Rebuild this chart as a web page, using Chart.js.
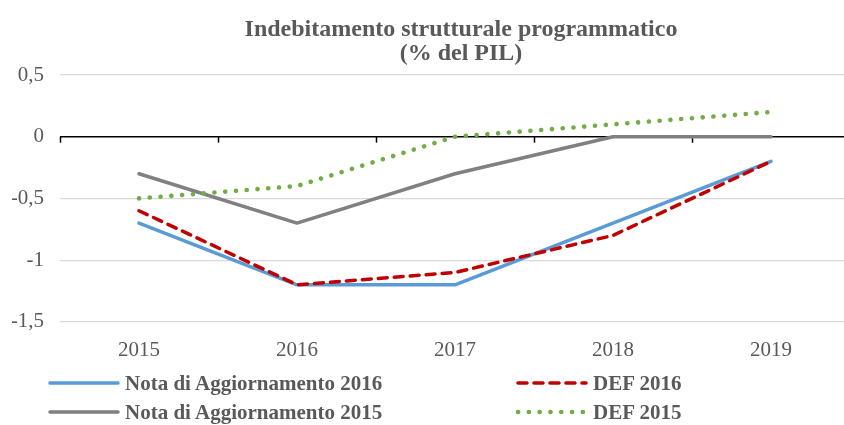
<!DOCTYPE html>
<html>
<head>
<meta charset="utf-8">
<script src="https://cdn.jsdelivr.net/npm/chart.js@4/dist/chart.umd.min.js"></script>
<style>
  html, body { margin: 0; padding: 0; background: #fff; overflow: hidden; width: 844px; height: 425px; }
  #wrap { position: relative; width: 852px; height: 425px; }
  canvas { position: absolute; left: 0; top: 0; }
  .leg { position: absolute; font-family: "Liberation Serif", "Times New Roman", serif; font-weight: bold;
         font-size: 21px; color: #595959; line-height: 24px; height: 24px; white-space: nowrap; }
  .leg svg { position: absolute; left: 0; top: 0; }
  .leg span { position: absolute; top: 0; }
</style>
</head>
<body>
<div id="wrap">
  <canvas id="c" width="852" height="425"></canvas>
  <div id="legend"></div>
</div>
<script>
// ---- data ----
const categories = ['2015', '2016', '2017', '2018', '2019'];
const notaAgg2016 = [-0.7, -1.2, -1.2, -0.7, -0.2];
const def2016     = [-0.6, -1.2, -1.1, -0.8, -0.2];
const notaAgg2015 = [-0.3, -0.7, -0.3, 0, 0];
const def2015     = [-0.5, -0.4, 0, 0.1, 0.2];
const seriesNames = ['Nota di Aggiornamento 2016', 'DEF 2016', 'Nota di Aggiornamento 2015', 'DEF 2015'];
const titleLines  = ['Indebitamento strutturale programmatico', '(% del PIL)'];
const yMin = -1.5, yMax = 0.5, yStep = 0.5;

const styles = [
  { color: '#5B9BD5', dash: [], width: 3.5, cap: 'round', order: 4 },
  { color: '#C00000', dash: [9, 7], width: 3.5, cap: 'round', order: 3 },
  { color: '#808080', dash: [], width: 3.5, cap: 'round', order: 2 },
  { color: '#70AD47', dash: [0.1, 10.7], width: 4.6, cap: 'round', order: 1 }
];
const seriesData = [notaAgg2016, def2016, notaAgg2015, def2015];

const FONT = '"Liberation Serif", "Times New Roman", serif';
const TXT = '#595959';

const zeroTicks = {
  id: 'zeroTicks',
  afterLayout(chart) {
    // nudge the title box slightly right, as in the reference
    if (chart.titleBlock) { chart.titleBlock.left += 12; chart.titleBlock.right += 0; }
  },
  beforeDatasetsDraw(chart) {
    const x = chart.scales.x, y = chart.scales.y;
    const ctx = chart.ctx;
    const n = categories.length;
    const step = (x.right - x.left) / n;
    const y0 = y.getPixelForValue(0);
    ctx.save();
    ctx.strokeStyle = '#000';
    ctx.lineWidth = 1.5;
    for (let i = 0; i <= n; i++) {
      const px = Math.round(x.left + i * step) + 0.5;
      ctx.beginPath();
      ctx.moveTo(px, y0);
      ctx.lineTo(px, y0 + 6);
      ctx.stroke();
    }
    ctx.restore();
  }
};

const chart = new Chart(document.getElementById('c'), {
  type: 'line',
  data: {
    labels: categories,
    datasets: seriesData.map((d, i) => ({
      label: seriesNames[i],
      data: d,
      borderColor: styles[i].color,
      backgroundColor: styles[i].color,
      borderWidth: styles[i].width,
      borderDash: styles[i].dash,
      borderCapStyle: styles[i].cap,
      borderJoinStyle: 'round',
      pointRadius: 0,
      tension: 0,
      fill: false,
      order: styles[i].order
    }))
  },
  options: {
    responsive: false,
    animation: false,
    devicePixelRatio: 1,
    layout: { padding: { left: 12, right: 2, top: 0, bottom: 46 } },
    plugins: {
      legend: { display: false },
      tooltip: { enabled: false },
      title: {
        display: true,
        text: titleLines,
        fullSize: false,
        color: TXT,
        font: { family: FONT, size: 24, weight: 'bold', lineHeight: 1.0 },
        padding: { top: 18, bottom: 9 }
      }
    },
    scales: {
      x: {
        type: 'category',
        offset: true,
        grid: { display: false, drawTicks: false },
        border: { display: false },
        ticks: { color: TXT, font: { family: FONT, size: 21 }, padding: 16, maxRotation: 0 }
      },
      y: {
        min: yMin, max: yMax,
        border: { display: false },
        afterFit: s => { s.width = 48; },
        grid: {
          drawTicks: false,
          color: ctx => (ctx.tick && ctx.tick.value === 0) ? '#000000' : '#D9D9D9',
          lineWidth: ctx => (ctx.tick && ctx.tick.value === 0) ? 1.5 : 1.2
        },
        ticks: {
          stepSize: yStep,
          color: TXT,
          padding: 16,
          font: { family: FONT, size: 21 },
          callback: v => String(Math.round(v * 10) / 10).replace('.', ',')
        }
      }
    }
  },
  plugins: [zeroTicks]
});

// ---- HTML legend (2 columns x 2 rows) ----
const legPos = [
  { left: 48, top: 371 }, { left: 516, top: 371 },
  { left: 48, top: 400 }, { left: 516, top: 400 }
];
const legEl = document.getElementById('legend');
chart.data.datasets.forEach((ds, i) => {
  const p = legPos[i];
  const st = styles[i];
  const div = document.createElement('div');
  div.className = 'leg';
  div.style.left = p.left + 'px';
  div.style.top = p.top + 'px';
  const dash = st.dash.length ? `stroke-dasharray="${st.dash.join(' ')}"` : '';
  div.innerHTML =
    `<svg width="80" height="24"><line x1="${2}" y1="12" x2="${70}" y2="12" stroke="${st.color}" stroke-width="${st.width}" stroke-linecap="${st.cap}" ${dash}/></svg>` +
    `<span style="left:77px">${ds.label}</span>`;
  legEl.appendChild(div);
});
</script>
</body>
</html>
